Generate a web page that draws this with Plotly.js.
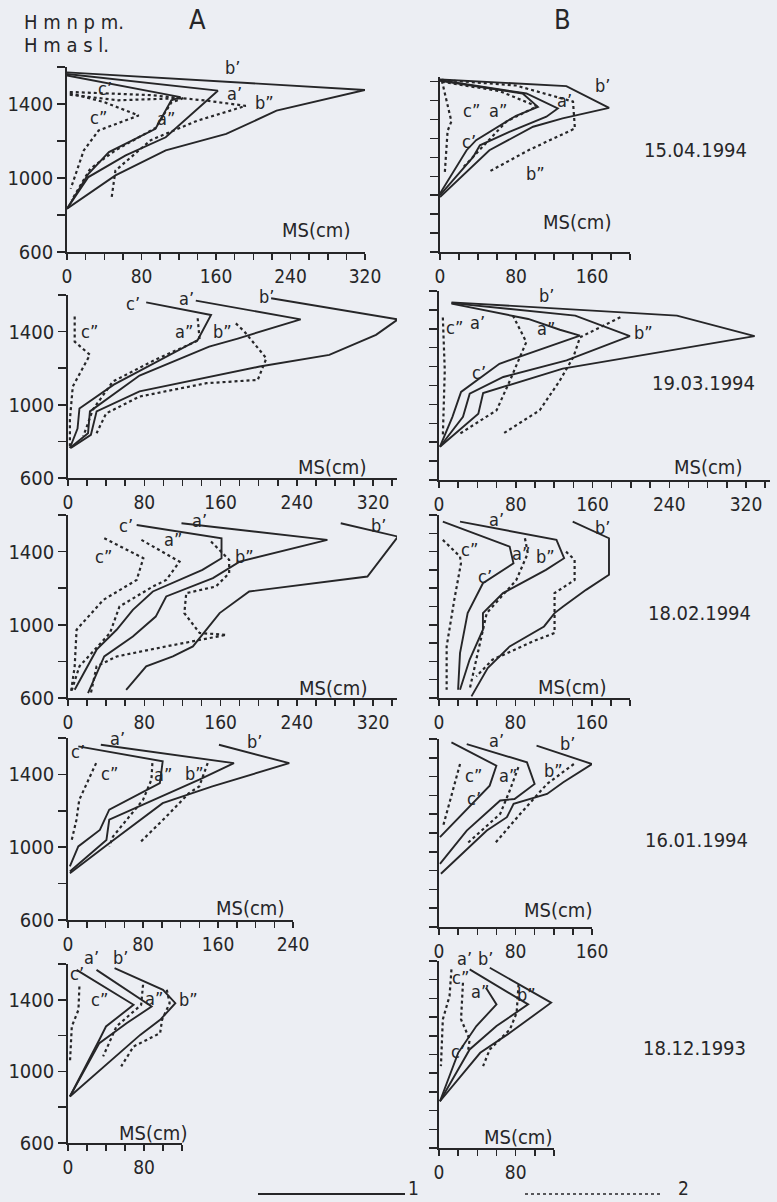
<!DOCTYPE html>
<html><head><meta charset="utf-8">
<script src="https://cdn.plot.ly/plotly-3.0.1.min.js"></script>
<style>html,body{margin:0;padding:0;background:#eceef3;}#chart{width:777px;height:1202px;}</style>
</head><body><div id="chart"></div>
<script>
// ---- DATA: [MS (cm), H (m a.s.l.)] ----
// 15.04.1994
const A1_a1 = [[0,1562],[162,1472],[106,1220],[63,1122],[23,1005],[0,834]];
const A1_b1 = [[0,1571],[320,1476],[225,1364],[171,1238],[106,1149],[52,1014],[0,834]];
const A1_c1 = [[0,1554],[122,1437],[112,1420],[95,1266],[45,1140],[23,1023],[0,834]];
const A1_a2 = [[3,1450],[55,1420],[125,1432],[112,1408],[95,1270],[52,1150],[25,1050],[5,880]];
const A1_b2 = [[3,1465],[90,1448],[150,1418],[192,1390],[140,1310],[90,1205],[52,1040],[48,897]];
const A1_c2 = [[3,1459],[40,1410],[77,1338],[34,1257],[18,1149],[4,942]];
const B1_a1 = [[0,1508],[91,1438],[124,1359],[112,1315],[73,1235],[42,1164],[35,1103],[0,900]];
const B1_b1 = [[0,1512],[133,1477],[178,1362],[129,1306],[98,1262],[52,1138],[0,891]];
const B1_c1 = [[0,1505],[87,1438],[103,1367],[80,1320],[38,1191],[28,1138],[0,909]];
const B1_a2 = [[2,1500],[63,1450],[102,1370],[70,1290],[38,1120],[25,1050]];
const B1_b2 = [[2,1510],[80,1480],[140,1395],[142,1253],[94,1140],[51,1023]];
const B1_c2 = [[2,1505],[12,1290],[8,1240],[5,1015]];
// 19.03.1994
const A2_a1 = [[134,1569],[244,1467],[178,1362],[148,1318],[75,1160],[23,964],[21,845],[2,764]];
const A2_b1 = [[213,1582],[346,1467],[323,1382],[274,1273],[201,1209],[75,1073],[30,964],[24,836],[3,764]];
const A2_c1 = [[82,1560],[150,1491],[136,1354],[48,1110],[12,980],[10,870],[2,764]];
const A2_a2 = [[136,1473],[138,1355],[91,1245],[47,1127],[26,973],[16,827]];
const A2_b2 = [[176,1445],[185,1400],[208,1254],[199,1136],[145,1118],[75,1045],[40,953],[30,845]];
const A2_c2 = [[7,1482],[7,1345],[23,1273],[5,1100],[2,918],[2,773]];
const B2_a1 = [[13,1536],[142,1470],[199,1361],[133,1233],[67,1145],[32,1057],[25,934],[1,776]];
const B2_b1 = [[13,1540],[248,1470],[329,1361],[129,1189],[46,1060],[41,951],[1,776]];
const B2_c1 = [[13,1533],[93,1452],[126,1395],[147,1364],[63,1215],[23,1066],[14,934],[1,776]];
const B2_a2 = [[77,1470],[91,1330],[74,1127],[60,969],[22,846]];
const B2_b2 = [[189,1461],[147,1355],[140,1250],[126,1127],[105,969],[67,846]];
const B2_c2 = [[4,1460],[6,1180],[4,830]];
// 18.02.1994
const A3_a1 = [[119,1555],[272,1464],[180,1345],[152,1255],[103,1155],[92,1045],[68,936],[38,827],[21,627]];
const A3_b1 = [[286,1555],[346,1482],[314,1264],[190,1182],[159,1064],[145,973],[131,882],[110,827],[82,773],[61,645]];
const A3_c1 = [[72,1545],[161,1473],[161,1364],[141,1300],[89,1182],[68,1082],[51,973],[30,864],[7,645]];
const A3_a2 = [[77,1464],[117,1345],[103,1245],[89,1209],[54,1100],[44,955],[12,773],[3,627]];
const A3_b2 = [[150,1455],[169,1355],[169,1282],[155,1209],[124,1173],[122,1064],[138,955],[166,945],[103,882],[51,827],[30,773],[24,627]];
const A3_c2 = [[38,1473],[79,1364],[72,1245],[37,1136],[9,973],[7,773],[3,627]];
const B3_a1 = [[22,1564],[123,1464],[131,1364],[112,1300],[67,1173],[46,1064],[46,973],[32,809],[22,645]];
const B3_b1 = [[140,1564],[178,1473],[178,1273],[154,1191],[130,1100],[121,1064],[110,991],[74,882],[51,764],[34,609]];
const B3_c1 = [[4,1564],[74,1427],[78,1336],[46,1227],[30,1064],[22,845],[20,645]];
const B3_a2 = [[90,1473],[93,1391],[81,1245],[50,1064],[39,809],[32,645]];
const B3_b2 = [[133,1400],[142,1355],[142,1245],[121,1173],[121,955],[98,909],[56,809],[39,718]];
const B3_c2 = [[4,1464],[22,1373],[23,1336],[16,1136],[8,882],[8,645]];
// 16.01.1994
const A4_a1 = [[35,1563],[177,1462],[140,1371],[44,1151],[41,1040],[2,866]];
const A4_b1 = [[161,1563],[236,1462],[154,1334],[101,1242],[44,1022],[2,857]];
const A4_c1 = [[11,1554],[101,1472],[98,1352],[44,1206],[34,1095],[11,1004],[2,894]];
const A4_a2 = [[90,1462],[89,1371],[80,1260],[48,1059],[44,1004]];
const A4_b2 = [[149,1462],[140,1334],[129,1297],[105,1169],[76,1022]];
const A4_c2 = [[30,1462],[12,1260],[9,1150],[4,1040]];
const B4_a1 = [[29,1573],[92,1476],[100,1361],[79,1281],[64,1273],[29,1113],[1,936]];
const B4_b1 = [[102,1565],[160,1467],[130,1370],[113,1308],[78,1255],[71,1184],[50,1113],[2,883]];
const B4_c1 = [[13,1582],[60,1458],[53,1352],[1,1078]];
const B4_a2 = [[83,1450],[74,1326],[64,1202],[29,1042]];
const B4_b2 = [[141,1467],[113,1361],[85,1202],[58,1042]];
const B4_c2 = [[22,1467],[4,1131]];
// 18.12.1993
const A5_a1 = [[30,1567],[88,1363],[62,1270],[33,1158],[2,860]];
const A5_b1 = [[49,1577],[100,1456],[113,1381],[97,1288],[76,1204],[2,860]];
const A5_c1 = [[9,1567],[69,1372],[40,1251],[33,1177],[2,860]];
const A5_a2 = [[79,1484],[77,1372],[51,1251],[37,1084]];
const A5_b2 = [[104,1456],[107,1381],[99,1288],[97,1214],[69,1139],[56,1028]];
const A5_c2 = [[12,1474],[11,1344],[4,1251],[2,1046]];
const B5_a1 = [[32,1555],[93,1368],[60,1252],[32,1127],[1,850]];
const B5_b1 = [[53,1564],[117,1377],[74,1216],[43,1109],[1,850]];
const B5_c1 = [[49,1457],[60,1368],[39,1252],[20,1109],[1,850]];
const B5_a2 = [[25,1484],[23,1288],[32,1180],[30,1109]];
const B5_b2 = [[83,1475],[81,1323],[74,1234],[53,1127],[46,1038]];
const B5_c2 = [[13,1555],[11,1413],[4,1288],[2,1038]];

const dates = ["15.04.1994","19.03.1994","18.02.1994","16.01.1994","18.12.1993"];
const colNames = ["A","B"];
const xLabelStep = 80;
const yLabels = [600,1000,1400];

// curve labels: [panel, text, MS, H, xshift px, yshift px]
const curveLabels = [
 [0,"b’",178,1595,0,0],[0,"a’",180,1455,0,0],[0,"b”",212,1410,0,0],[0,"c’",41,1482,0,0],[0,"c”",34,1329,0,0],[0,"a”",106,1320,0,0],
 [1,"b’",171,1482,0,0],[1,"a’",131,1403,0,0],[1,"c”",33,1350,0,0],[1,"a”",61,1350,0,0],[1,"c’",30,1182,0,0],[1,"b”",101,1015,0,0],
 [2,"c’",68,1554,0,0],[2,"a’",124,1582,0,0],[2,"b’",208,1591,0,0],[2,"c”",23,1400,0,0],[2,"a”",122,1400,0,0],[2,"b”",162,1400,0,0],
 [3,"b’",112,1575,0,0],[3,"c”",16,1408,0,0],[3,"a’",40,1435,0,0],[3,"a”",112,1400,0,0],[3,"b”",213,1382,0,0],[3,"c’",42,1171,0,0],
 [4,"c’",61,1545,0,0],[4,"a’",138,1585,0,-3],[4,"b’",326,1560,0,-3],[4,"a”",110,1464,0,0],[4,"c”",37,1373,0,0],[4,"b”",185,1373,0,0],
 [5,"a’",60,1578,0,0],[5,"b’",171,1550,0,-3],[5,"c”",32,1409,0,0],[5,"a”",86,1391,0,0],[5,"b”",112,1373,0,0],[5,"c’",48,1264,0,0],
 [6,"a’",53,1600,0,0],[6,"c’",11,1527,0,0],[6,"b’",199,1582,0,0],[6,"c”",44,1407,0,0],[6,"a”",101,1398,0,0],[6,"b”",135,1407,0,0],
 [7,"a’",60,1591,0,0],[7,"b’",134,1574,0,0],[7,"c”",36,1405,0,0],[7,"a”",72,1405,0,0],[7,"b”",120,1432,0,0],[7,"c’",37,1281,0,0],
 [8,"a’",25,1600,0,7],[8,"b’",55,1600,0,7],[8,"c’",9,1549,0,0],[8,"c”",33,1400,0,0],[8,"a”",90,1409,0,0],[8,"b”",118,1400,8,0],
 [9,"a’",27,1600,0,3],[9,"b’",49,1600,0,3],[9,"c”",22,1511,0,0],[9,"a”",43,1439,0,0],[9,"b”",91,1421,0,0],[9,"c’",20,1118,0,0]
];

const panelSeries = [
 [A1_a1,A1_b1,A1_c1,A1_a2,A1_b2,A1_c2],[B1_a1,B1_b1,B1_c1,B1_a2,B1_b2,B1_c2],
 [A2_a1,A2_b1,A2_c1,A2_a2,A2_b2,A2_c2],[B2_a1,B2_b1,B2_c1,B2_a2,B2_b2,B2_c2],
 [A3_a1,A3_b1,A3_c1,A3_a2,A3_b2,A3_c2],[B3_a1,B3_b1,B3_c1,B3_a2,B3_b2,B3_c2],
 [A4_a1,A4_b1,A4_c1,A4_a2,A4_b2,A4_c2],[B4_a1,B4_b1,B4_c1,B4_a2,B4_b2,B4_c2],
 [A5_a1,A5_b1,A5_c1,A5_a2,A5_b2,A5_c2],[B5_a1,B5_b1,B5_c1,B5_a2,B5_b2,B5_c2]
];

// ---- LAYOUT GEOMETRY (pixels) ----
const W = 777, H = 1202;
const geom = [
 {x0:67,x1:365,xmax:320,yb:252,yt:67,ymax:1600},
 {x0:440,x1:630,xmax:200,yb:252,yt:77,ymax:1525},
 {x0:68,x1:397,xmax:345,yb:478,yt:295,ymax:1600},
 {x0:439,x1:770,xmax:345,yb:480,yt:291,ymax:1600},
 {x0:68,x1:397,xmax:345,yb:698,yt:515,ymax:1600},
 {x0:439,x1:630,xmax:200,yb:698,yt:515,ymax:1600},
 {x0:68,x1:293,xmax:240,yb:920,yt:738,ymax:1600},
 {x0:439,x1:592,xmax:160,yb:927,yt:739,ymax:1600},
 {x0:68,x1:182,xmax:120,yb:1143,yt:964,ymax:1600},
 {x0:439,x1:554,xmax:120,yb:1148,yt:961,ymax:1600}
];
const msPos = [[316,230],[577,222],[332,467],[708,467],[333,688],[572,687],[250,908],[558,910],[153,1133],[518,1137]];
const datePos = [[695,150],[703,383],[699,613],[696,840],[694,1048]];

const INK = '#262628';
const FONT = 'DejaVu Sans Condensed, DejaVu Sans, sans-serif';
const px = x => x / W, py = y => 1 - y / H;

const traces = [];
const layout = {
  width: W, height: H, margin: {l:0,r:0,t:0,b:0},
  paper_bgcolor: '#eceef3', plot_bgcolor: 'rgba(0,0,0,0)',
  showlegend: false, font: {family: FONT, color: INK, size: 19},
  annotations: [], shapes: []
};

geom.forEach((g, i) => {
  const n = i + 1, sfx = n === 1 ? '' : String(n);
  const isA = i % 2 === 0;
  const xt = []; for (let v = 0; v <= g.xmax + 0.1; v += 20) xt.push(v);
  const yt = []; const ystep = isA ? 200 : 100;
  for (let v = 600; v <= g.ymax + 0.1; v += ystep) yt.push(v);
  layout['xaxis' + sfx] = {
    domain: [px(g.x0), px(g.x1)], range: [0, g.xmax], anchor: 'y' + sfx,
    showline: true, linecolor: INK, linewidth: 1.8, showgrid: false, zeroline: false,
    ticks: 'outside', ticklen: 6, tickwidth: 1.5, tickcolor: INK,
    tickmode: 'array', tickvals: xt, ticktext: xt.map(v => v % xLabelStep === 0 ? String(v) : ''),
    tickfont: {size: 19, family: FONT, color: INK}, fixedrange: true
  };
  layout['yaxis' + sfx] = {
    domain: [py(g.yb), py(g.yt)], range: [600, g.ymax], anchor: 'x' + sfx,
    showline: true, linecolor: INK, linewidth: 1.8, showgrid: false, zeroline: false,
    ticks: 'outside', ticklen: 8, tickwidth: 1.5, tickcolor: INK,
    tickmode: 'array', tickvals: yt,
    ticktext: yt.map(v => (isA && yLabels.includes(v)) ? String(v) : ''),
    tickfont: {size: 20, family: FONT, color: INK}, fixedrange: true
  };
  panelSeries[i].forEach((s, k) => {
    traces.push({
      type: 'scatter', mode: 'lines', xaxis: 'x' + sfx, yaxis: 'y' + sfx,
      x: s.map(p => p[0]), y: s.map(p => p[1]), cliponaxis: false,
      line: k < 3 ? {color: INK, width: 1.9} : {color: INK, width: 2.2, dash: 'dot'},
      hoverinfo: 'skip'
    });
  });
  layout.annotations.push({
    xref: 'paper', yref: 'paper', x: px(msPos[i][0]), y: py(msPos[i][1]),
    text: 'MS(cm)', showarrow: false, xanchor: 'center', yanchor: 'middle',
    font: {size: 20, family: FONT, color: INK}
  });
});

curveLabels.forEach(([p, t, x, y, dx, dy]) => {
  const sfx = p === 0 ? '' : String(p + 1);
  layout.annotations.push({
    xref: 'x' + sfx, yref: 'y' + sfx, x: x, y: y, text: t, showarrow: false,
    xshift: dx, yshift: dy,
    xanchor: 'center', yanchor: 'middle', font: {size: 18, family: FONT, color: INK}
  });
});

dates.forEach((d, r) => {
  layout.annotations.push({
    xref: 'paper', yref: 'paper', x: px(datePos[r][0]), y: py(datePos[r][1]),
    text: d, showarrow: false, xanchor: 'center', yanchor: 'middle',
    font: {size: 20, family: FONT, color: INK}
  });
});

// header texts and legend key
layout.annotations.push(
  {xref:'paper',yref:'paper',x:px(22),y:py(22),text:'H m n p m.',showarrow:false,xanchor:'left',yanchor:'middle',font:{size:20,family:FONT,color:INK}},
  {xref:'paper',yref:'paper',x:px(22),y:py(45),text:'H m a s l.',showarrow:false,xanchor:'left',yanchor:'middle',font:{size:20,family:FONT,color:INK}},
  {xref:'paper',yref:'paper',x:px(197),y:py(20),text:colNames[0],showarrow:false,xanchor:'center',yanchor:'middle',font:{size:27,family:FONT,color:INK}},
  {xref:'paper',yref:'paper',x:px(562),y:py(20),text:colNames[1],showarrow:false,xanchor:'center',yanchor:'middle',font:{size:27,family:FONT,color:INK}},
  {xref:'paper',yref:'paper',x:px(413),y:py(1188),text:'1',showarrow:false,xanchor:'center',yanchor:'middle',font:{size:19,family:FONT,color:INK}},
  {xref:'paper',yref:'paper',x:px(683),y:py(1188),text:'2',showarrow:false,xanchor:'center',yanchor:'middle',font:{size:19,family:FONT,color:INK}}
);
layout.shapes.push(
  {type:'line',xref:'paper',yref:'paper',x0:px(258),x1:px(405),y0:py(1194),y1:py(1194),line:{color:INK,width:1.8}},
  {type:'line',xref:'paper',yref:'paper',x0:px(525),x1:px(660),y0:py(1194),y1:py(1194),line:{color:INK,width:1.6,dash:'dot'}}
);

Plotly.newPlot('chart', traces, layout, {displayModeBar: false, staticPlot: true});
</script></body></html>
